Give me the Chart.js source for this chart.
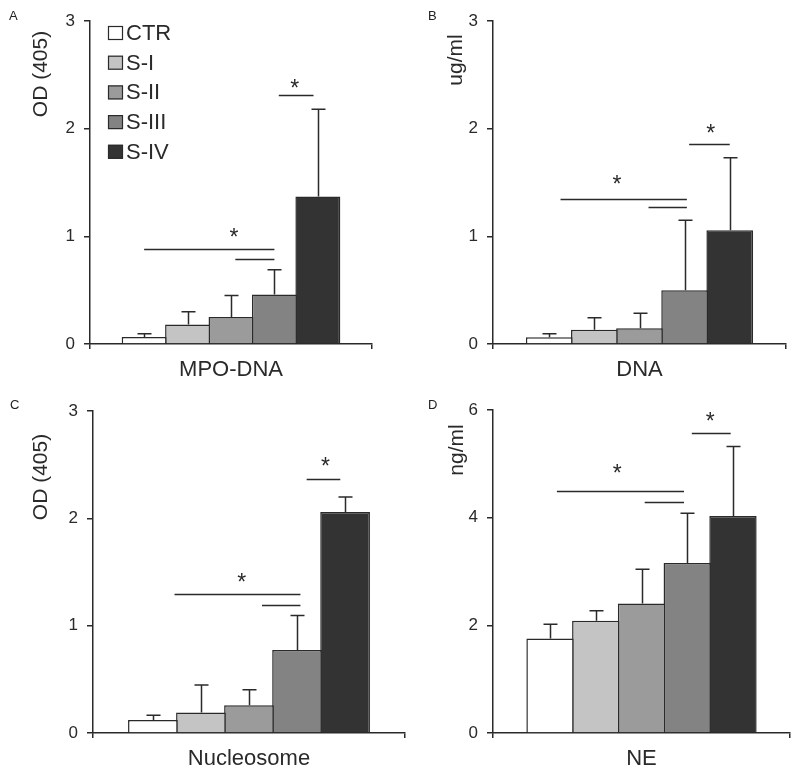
<!DOCTYPE html>
<html>
<head>
<meta charset="utf-8">
<script src="https://cdn.jsdelivr.net/npm/chart.js@4.4.1/dist/chart.umd.min.js"></script>
<style>
  html, body { margin: 0; padding: 0; background: #ffffff; }
  #wrap { position: relative; width: 800px; height: 779px; background: #ffffff; overflow: hidden; }
  .panel { position: absolute; }
  .tag { position: absolute; font: 13px "Liberation Sans", Arial, sans-serif; color: #222; }
</style>
</head>
<body>
<div id="wrap">
  <canvas id="cA" class="panel" width="400" height="390" style="left:0px;top:0px"></canvas>
  <canvas id="cB" class="panel" width="400" height="390" style="left:400px;top:0px"></canvas>
  <canvas id="cC" class="panel" width="420" height="389" style="left:0px;top:390px"></canvas>
  <canvas id="cD" class="panel" width="400" height="389" style="left:400px;top:390px"></canvas>
  <div class="tag" style="left:9px;top:8px">A</div>
  <div class="tag" style="left:428px;top:8px">B</div>
  <div class="tag" style="left:10px;top:397px">C</div>
  <div class="tag" style="left:428px;top:397px">D</div>
</div>
<script>
// ---------------- data ----------------
const groups = ['CTR', 'S-I', 'S-II', 'S-III', 'S-IV'];

const mpoDnaMean = [0.065, 0.18, 0.25, 0.46, 1.37];
const mpoDnaSD   = [0.03, 0.12, 0.20, 0.23, 0.81];

const dnaMean = [0.062, 0.133, 0.146, 0.50, 1.056];
const dnaSD   = [0.034, 0.111, 0.139, 0.65, 0.674];

const nucleosomeMean = [0.121, 0.19, 0.258, 0.774, 2.06];
const nucleosomeSD   = [0.044, 0.258, 0.146, 0.32, 0.138];

const neMean = [1.754, 2.083, 2.405, 3.16, 4.03];
const neSD   = [0.266, 0.187, 0.639, 0.92, 1.29];

// significance brackets: [fromGroupIndex, toGroupIndex, yValue]
const mpoDnaSig     = [[0, 3, 0.882], [2.1, 3, 0.79], [3.1, 3.9, 2.31]];
const mpoDnaStars   = [[2.07, 1.04], [3.47, 2.43]];
const dnaSig        = [[0.25, 3.05, 1.349], [2.2, 3.05, 1.272], [3.1, 4.0, 1.854]];
const dnaStars      = [[1.5, 1.54], [3.58, 2.01]];
const nucleoSig     = [[0.45, 3.07, 1.291], [2.27, 3.07, 1.191], [3.2, 3.9, 2.367]];
const nucleoStars   = [[1.85, 1.452], [3.59, 2.535]];
const neSig         = [[0.15, 2.93, 4.50], [2.07, 2.93, 4.295], [3.1, 3.95, 5.57]];
const neStars       = [[1.47, 4.92], [3.5, 5.89]];

// ---------------- style ----------------
const FONT = '"Liberation Sans", Arial, sans-serif';
const INK = '#2a2a2a';
const fills = ['#ffffff', '#c4c4c4', '#9b9b9b', '#838383', '#333333'];

function xAt(chart, idx) {
  const n = chart.data.datasets.length;
  const i = Math.max(0, Math.min(n - 2, Math.floor(idx)));
  const x0 = chart.getDatasetMeta(i).data[0].x;
  const x1 = chart.getDatasetMeta(i + 1).data[0].x;
  return x0 + (idx - i) * (x1 - x0);
}

const extrasPlugin = {
  id: 'extras',
  afterDatasetsDraw(chart) {
    const o = chart.options.plugins.extras;
    const ctx = chart.ctx;
    const ys = chart.scales.y;
    ctx.save();
    ctx.strokeStyle = INK;
    ctx.lineWidth = 1.5;
    // error bars (upper only)
    chart.data.datasets.forEach((ds, i) => {
      const el = chart.getDatasetMeta(i).data[0];
      const x = Math.round(el.x) + 0.5;
      const yTop = ys.getPixelForValue(ds.data[0]);
      const yErr = ys.getPixelForValue(ds.data[0] + o.sd[i]);
      ctx.beginPath();
      ctx.moveTo(x, yTop);
      ctx.lineTo(x, yErr);
      ctx.moveTo(x - 7, yErr);
      ctx.lineTo(x + 7, yErr);
      ctx.stroke();
    });
    // significance lines
    o.sig.forEach(s => {
      const y = Math.round(ys.getPixelForValue(s[2])) + 0.5;
      ctx.beginPath();
      ctx.moveTo(xAt(chart, s[0]), y);
      ctx.lineTo(xAt(chart, s[1]), y);
      ctx.stroke();
    });
    ctx.fillStyle = INK;
    ctx.font = '23px ' + FONT;
    ctx.textAlign = 'center';
    ctx.textBaseline = 'alphabetic';
    o.stars.forEach(s => {
      ctx.fillText('*', xAt(chart, s[0]), ys.getPixelForValue(s[1]) + 0.58 * 23);
    });
    // y title
    ctx.save();
    ctx.translate(o.title.x, o.title.y);
    ctx.rotate(-Math.PI / 2);
    ctx.font = '21px ' + FONT;
    ctx.textAlign = 'center';
    ctx.fillStyle = INK;
    ctx.fillText(o.title.text, 0, 0);
    ctx.restore();
    // legend
    if (o.legend) {
      ctx.font = '22px ' + FONT;
      ctx.textAlign = 'left';
      ctx.textBaseline = 'middle';
      chart.data.datasets.forEach((ds, i) => {
        const cy = o.legend.y + i * o.legend.step;
        ctx.fillStyle = ds.backgroundColor;
        ctx.fillRect(o.legend.x, cy - 7, 15, 14);
        ctx.lineWidth = 1.2;
        ctx.strokeStyle = INK;
        ctx.strokeRect(o.legend.x + 0.5, cy - 7 + 0.5, 14, 13);
        ctx.fillStyle = INK;
        ctx.fillText(ds.label, o.legend.x + 18, cy + 1);
      });
    }
    ctx.restore();
  }
};

function makeChart(id, cfg) {
  const canvas = document.getElementById(id);
  const W = canvas.width, H = canvas.height;
  return new Chart(canvas, {
    type: 'bar',
    data: {
      labels: [cfg.category],
      datasets: groups.map((g, i) => ({
        label: g,
        data: [cfg.mean[i]],
        backgroundColor: fills[i],
        borderColor: INK,
        borderWidth: 1.5,
        borderSkipped: 'bottom',
        barPercentage: 1.035,
        categoryPercentage: 0.77
      }))
    },
    options: {
      responsive: false,
      animation: false,
      devicePixelRatio: 1,
      layout: { padding: { left: 0, right: W - cfg.right, top: cfg.top, bottom: 0 } },
      plugins: {
        legend: { display: false },
        tooltip: { enabled: false },
        extras: {
          sd: cfg.sd, sig: cfg.sig, stars: cfg.stars,
          title: cfg.title, legend: cfg.legend
        }
      },
      scales: {
        x: {
          offset: true,
          grid: { display: true, drawOnChartArea: false, drawTicks: true, tickLength: 5, color: INK, lineWidth: 1.5, offset: true },
          border: { display: true, color: INK, width: 1.5 },
          ticks: { color: INK, font: { family: FONT, size: 22 }, padding: 8 },
          afterFit(s) { s.height = H - cfg.bottom; }
        },
        y: {
          min: 0, max: cfg.yMax,
          grid: { display: true, drawOnChartArea: false, drawTicks: true, tickLength: 6, color: INK, lineWidth: 1.5 },
          border: { display: true, color: INK, width: 1.5 },
          ticks: { stepSize: cfg.yStep, color: INK, font: { family: FONT, size: 17 }, padding: 9 },
          afterFit(s) { s.width = cfg.left; }
        }
      }
    },
    plugins: [extrasPlugin]
  });
}

makeChart('cA', {
  category: 'MPO-DNA', mean: mpoDnaMean, sd: mpoDnaSD, sig: mpoDnaSig, stars: mpoDnaStars,
  yMax: 3, yStep: 1, left: 90, right: 372, top: 21, bottom: 344,
  title: { text: 'OD (405)', x: 47, y: 74 },
  legend: { x: 108, y: 33, step: 29.7 }
});
makeChart('cB', {
  category: 'DNA', mean: dnaMean, sd: dnaSD, sig: dnaSig, stars: dnaStars,
  yMax: 3, yStep: 1, left: 93, right: 386, top: 21, bottom: 344,
  title: { text: 'ug/ml', x: 62, y: 60 }
});
makeChart('cC', {
  category: 'Nucleosome', mean: nucleosomeMean, sd: nucleosomeSD, sig: nucleoSig, stars: nucleoStars,
  yMax: 3, yStep: 1, left: 93, right: 405, top: 21, bottom: 343,
  title: { text: 'OD (405)', x: 47, y: 87 }
});
makeChart('cD', {
  category: 'NE', mean: neMean, sd: neSD, sig: neSig, stars: neStars,
  yMax: 6, yStep: 2, left: 93, right: 390, top: 20, bottom: 343,
  title: { text: 'ng/ml', x: 63, y: 60 }
});
</script>
</body>
</html>
